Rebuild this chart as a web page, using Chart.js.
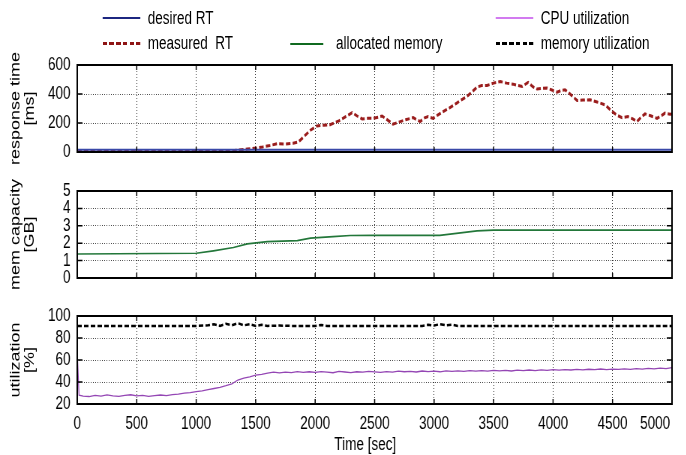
<!DOCTYPE html>
<html>
<head>
<meta charset="utf-8">
<script src="https://cdn.jsdelivr.net/npm/chart.js@4.4.1/dist/chart.umd.min.js"></script>
<style>
  html,body{margin:0;padding:0;background:#fff;overflow:hidden;}
  #wrap{position:absolute;left:0;top:0;width:915px;height:455px;transform:scaleX(0.75);transform-origin:0 0;font-family:'Liberation Sans',Arial,sans-serif;font-size:18px;color:#000;}
  .lg{position:absolute;white-space:pre;line-height:20px;}
  .ln{position:absolute;}
  canvas{position:absolute;left:0;}
</style>
</head>
<body>
<div id="wrap">
  <div class="ln" style="left:137px;top:17px;width:50px;height:1.5px;background:#1c2680;"></div>
  <div class="lg" style="left:197px;top:8px;">desired RT</div>
  <div class="ln" style="left:137px;top:42px;width:50px;height:3px;background:repeating-linear-gradient(to right,#8e1414 0 6px,transparent 6px 9px);"></div>
  <div class="lg" style="left:197px;top:33px;">measured  RT</div>
  <div class="ln" style="left:387px;top:43px;width:44px;height:1.5px;background:#106a20;"></div>
  <div class="lg" style="left:448px;top:33px;">allocated memory</div>
  <div class="ln" style="left:661px;top:17px;width:50px;height:2px;background:#d27bf0;"></div>
  <div class="lg" style="left:721px;top:8px;">CPU utilization</div>
  <div class="ln" style="left:661px;top:42px;width:50px;height:2.5px;background:repeating-linear-gradient(to right,#000 0 6px,transparent 6px 9px);"></div>
  <div class="lg" style="left:721px;top:33px;">memory utilization</div>

  <canvas id="c1" width="915" height="140" style="top:40px;width:915px;height:140px"></canvas>
  <canvas id="c2" width="915" height="130" style="top:170px;width:915px;height:130px"></canvas>
  <canvas id="c3" width="915" height="160" style="top:295px;width:915px;height:160px"></canvas>
</div>
<script>
// ---------- data ----------
const xTickLabels = ['0','500','1000','1500','2000','2500','3000','3500','4000','4500','5000'];

const desiredTime = [0, 5000];
const desiredRT   = [15, 15];

const measuredTime = [0,40,80,200,400,600,800,1000,1200,1300,1430,1500,1560,1620,1680,1750,1815,1860,1910,1960,2015,2070,2125,2200,2260,2311,2350,2395,2440,2487,2530,2563,2610,2655,2700,2760,2824,2850,2882,2920,2950,2992,3030,3076,3130,3190,3230,3275,3320,3361,3400,3445,3500,3557,3610,3664,3700,3740,3790,3830,3866,3910,3950,3990,4034,4070,4101,4150,4202,4250,4311,4370,4437,4470,4504,4540,4580,4630,4670,4706,4740,4773,4820,4874,4910,4941,4983,5000];
const measuredRT   = [2,12,3,3,3,3,3,4,5,8,20,27,35,45,57,55,60,70,110,150,180,185,188,215,245,272,250,228,232,232,240,248,220,192,205,222,237,225,210,235,244,232,255,279,305,337,360,383,415,448,458,459,475,486,475,468,460,452,480,450,434,440,441,428,413,425,429,395,355,358,360,345,325,300,275,252,237,244,228,210,240,263,250,232,250,268,261,262];

const memTime  = [0,1000,1145,1313,1430,1597,1850,1960,2150,2295,2487,3048,3361,3500,5000];
const allocMem = [1.38,1.42,1.56,1.75,1.96,2.09,2.15,2.29,2.38,2.44,2.45,2.45,2.71,2.75,2.75];

const cpuTime = [0,15,50,100,150,200,250,300,350,400,450,500,550,600,650,700,750,800,850,900,950,1000,1050,1100,1150,1200,1250,1300,1350,1400,1450,1500,1550,1600,1650,1700,1750,1800,1850,1900,1950,2000,2050,2100,2150,2200,2250,2300,2350,2400,2450,2500,2550,2600,2650,2700,2750,2800,2850,2900,2950,3000,3050,3100,3150,3200,3250,3300,3350,3400,3450,3500,3550,3600,3650,3700,3750,3800,3850,3900,3950,4000,4050,4100,4150,4200,4250,4300,4350,4400,4450,4500,4550,4600,4650,4700,4750,4800,4850,4900,4950,5000];
const cpuUtil = [67,28,27.2,26.8,27.9,27.1,28.3,27.4,27.0,27.8,28.4,27.3,27.9,26.9,27.6,28.2,27.7,28.6,28.9,29.8,30.4,31.2,31.9,33.0,34.1,35.2,36.6,38.4,41.8,43.5,44.6,46.2,46.9,48.1,48.9,48.3,49.0,48.6,49.4,48.8,49.3,48.7,49.5,49.0,48.4,49.6,49.1,48.6,49.3,48.9,49.7,49.2,48.8,49.5,49.0,49.9,49.3,49.6,49.1,50.0,49.4,49.8,49.3,50.2,49.6,50.1,49.7,50.4,49.9,50.3,49.8,50.6,50.1,50.5,50.0,50.8,50.3,50.9,50.4,51.0,50.6,51.3,50.8,51.2,50.9,51.5,51.0,51.6,51.2,51.8,51.3,51.7,51.4,52.0,51.5,52.1,51.7,52.3,51.9,52.6,52.2,53.0];

const memUtilTime = [0,200,400,600,800,1000,1100,1150,1200,1250,1300,1350,1400,1450,1500,1550,1600,1700,1800,2000,2050,2100,2300,2500,2700,2900,2950,3000,3050,3100,3150,3200,3400,3600,3800,4000,4200,4400,4600,4800,5000];
const memUtil     = [91,91,91,91,91,91,91.5,92.5,91,93,91.5,93.5,91.5,92.5,91,92,91,91.3,91,91,91.8,91,91,91,91,91,92,91.3,92.6,91.5,92.2,91,91,91,91,91,91,91,91,91,91];

// ---------- helpers ----------
const FONT = "'Liberation Sans', Arial, sans-serif";
const FS = 18;
const pts = (xs, ys) => xs.map((x, i) => ({x: x, y: ys[i]}));

const framePlugin = {
  id: 'frame',
  afterDatasetsDraw(chart) {
    const {ctx, chartArea: a, scales} = chart;
    ctx.save();
    ctx.strokeStyle = '#000';
    ctx.lineWidth = 1.5;
    ctx.beginPath();
    scales.x.ticks.forEach(t => {
      const px = scales.x.getPixelForValue(t.value);
      ctx.moveTo(px, a.bottom); ctx.lineTo(px, a.bottom - 5);
      ctx.moveTo(px, a.top); ctx.lineTo(px, a.top + 5);
    });
    scales.y.ticks.forEach(t => {
      const py = scales.y.getPixelForValue(t.value);
      ctx.moveTo(a.left, py); ctx.lineTo(a.left + 7, py);
      ctx.moveTo(a.right, py); ctx.lineTo(a.right - 7, py);
    });
    ctx.stroke();
    ctx.lineWidth = 2;
    ctx.strokeRect(a.left, a.top, a.width, a.height);
    ctx.restore();
  }
};

const gridOpts = {color: 'rgba(0,0,0,0.8)', lineWidth: 1, drawTicks: false};
const borderOpts = {display: false, dash: [1, 2]};

function makePanel(id, datasets, y, bottomAxis, padTop, padBottom) {
  const xAxis = {
    type: 'linear', min: 0, max: 5000,
    border: borderOpts,
    grid: gridOpts,
    ticks: {stepSize: 500, display: bottomAxis, padding: 9, color: '#000',
            font: {family: FONT, size: FS, lineHeight: 1.2}, maxRotation: 0, autoSkip: false,
            callback: (v, i) => { const s = xTickLabels[i]; return s === '5000' ? s + '         ' : s; }},
    title: {display: bottomAxis, text: 'Time [sec]     ', color: '#000',
            font: {family: FONT, size: FS, lineHeight: 1.1}, padding: {top: 0, bottom: 0}},
    afterFit(s) { s.height = bottomAxis ? 51 : 0; s.paddingLeft = 0; s.paddingRight = 0; }
  };
  const yAxis = {
    type: 'linear', min: y.min, max: y.max,
    border: borderOpts,
    grid: gridOpts,
    ticks: {stepSize: y.step, padding: 9, color: '#000', autoSkip: false, font: {family: FONT, size: FS}},
    title: {display: true, text: y.title, color: '#000',
            font: {family: FONT, size: FS, lineHeight: 1.05}, padding: {top: 12, bottom: 0}},
    afterFit(s) { s.width = 103; s.paddingTop = 0; s.paddingBottom = 0; }
  };
  return new Chart(document.getElementById(id), {
    type: 'line',
    data: {datasets: datasets},
    options: {
      responsive: false, animation: false, devicePixelRatio: 1,
      layout: {padding: {left: 0, right: 19, top: padTop, bottom: padBottom}},
      plugins: {legend: {display: false}, tooltip: {enabled: false}},
      elements: {point: {radius: 0}, line: {tension: 0}},
      scales: {x: xAxis, y: yAxis}
    },
    plugins: [framePlugin]
  });
}

makePanel('c1', [
  {label: 'desired RT', data: pts(desiredTime, desiredRT), borderColor: '#3a48a8', borderWidth: 2},
  {label: 'measured RT', data: pts(measuredTime, measuredRT), borderColor: '#9a1c1c', borderWidth: 3, borderDash: [6, 3]}
], {min: 0, max: 600, step: 200, title: ['response time', '[ms]']}, false, 25, 28);

makePanel('c2', [
  {label: 'allocated memory', data: pts(memTime, allocMem), borderColor: '#23773a', borderWidth: 1.6}
], {min: 0, max: 5, step: 1, title: ['mem capacity', '[GB]']}, false, 21, 22);

makePanel('c3', [
  {label: 'memory utilization', data: pts(memUtilTime, memUtil), borderColor: '#000', borderWidth: 2.5, borderDash: [6, 3]},
  {label: 'CPU utilization', data: pts(cpuTime, cpuUtil), borderColor: '#9446b4', borderWidth: 1.3}
], {min: 20, max: 100, step: 20, title: ['utilization', '[%]']}, true, 21, 0);
</script>
</body>
</html>
